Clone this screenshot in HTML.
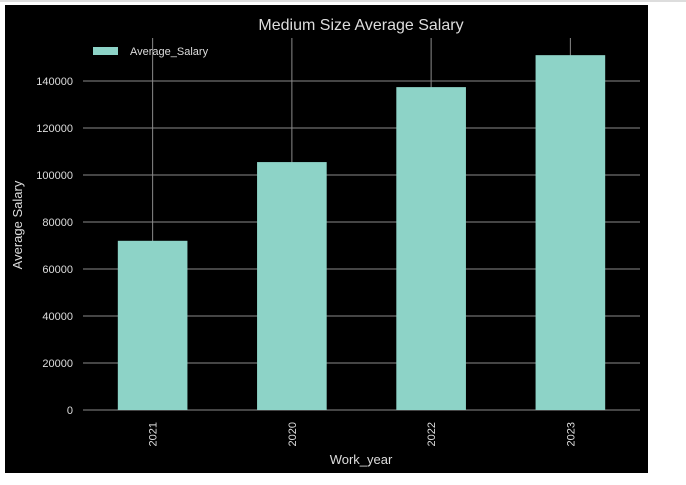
<!DOCTYPE html>
<html><head><meta charset="utf-8"><style>
body{margin:0;background:#fff;width:686px;height:485px;overflow:hidden;font-family:"Liberation Sans",sans-serif}
</style></head><body>
<div style="position:absolute;left:0;top:0;width:686px;height:2px;background:#ddd"></div>
<svg id="chart" width="686" height="485" style="position:absolute;left:0;top:0">
<rect x="5" y="5" width="643" height="468" fill="#000"/>
<g id="grid"></g><g id="bars"></g><g id="labels"></g>
</svg>
<script>
const categories=["2021","2020","2022","2023"];
const salaries=[72000,105500,137400,151000];
const yTicks=[0,20000,40000,60000,80000,100000,120000,140000];
const X0=83,X1=640,Y0=410,Y1=38,YMAX=158300;
const ns="http://www.w3.org/2000/svg";
function y(v){return Y0-(v/YMAX)*(Y0-Y1);}
const step=(X1-X0)/categories.length;
function xc(i){return X0+step*(i+0.5);}
function mk(tag,attrs,parent,text){const e=document.createElementNS(ns,tag);for(const k in attrs)e.setAttribute(k,attrs[k]);if(text!==undefined)e.textContent=text;parent.appendChild(e);return e;}
const grid=document.getElementById('grid'),bars=document.getElementById('bars'),labels=document.getElementById('labels');
yTicks.forEach(t=>{
 const l=mk('line',{x1:X0,x2:X1,y1:y(t),y2:y(t),stroke:'#8a8a8a','stroke-width':1},grid);
 
 
 const tx=mk('text',{x:X0-10,y:y(t)+4,'text-anchor':'end','font-size':11,fill:'#ddd'},labels,String(t));
 
 
});
categories.forEach((c,i)=>{
 const l=mk('line',{x1:xc(i),x2:xc(i),y1:Y1,y2:Y0,stroke:'#8a8a8a','stroke-width':1},grid);
 
 
 const bw=step*0.5;
 const b=mk('rect',{x:xc(i)-bw/2,y:y(salaries[i]),width:bw,height:Y0-y(salaries[i]),fill:'#8dd3c7'},bars);
 
 
 const tx=mk('text',{x:0,y:0,'text-anchor':'end','font-size':11,fill:'#ddd',transform:`translate(${xc(i)+4},${Y0+12}) rotate(-90)`},labels,c);
 
 
});
</script>
<svg width="686" height="485" style="position:absolute;left:0;top:0">
<text x="361" y="30" text-anchor="middle" font-size="16" fill="#ddd">Medium Size Average Salary</text>
<rect x="93" y="47" width="25" height="8" fill="#8dd3c7"/>
<text x="130" y="55" font-size="11" fill="#ddd">Average_Salary</text>
<text transform="translate(22,225) rotate(-90)" text-anchor="middle" font-size="13" fill="#ddd">Average Salary</text>
<text x="361" y="464" text-anchor="middle" font-size="13" fill="#ddd">Work_year</text>
</svg>
</body></html>
